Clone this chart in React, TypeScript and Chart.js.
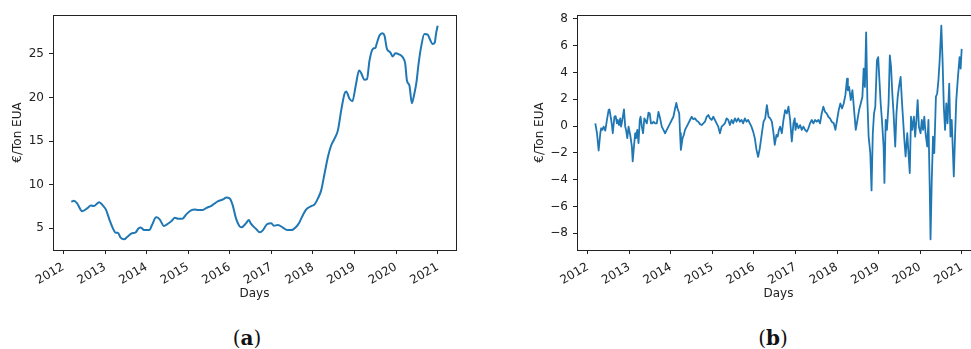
import React, { useEffect, useRef } from 'react';
import { Chart, registerables } from 'chart.js';

Chart.register(...registerables);

// Year ticks shared by both panels
const YEAR_TICKS = [2012, 2013, 2014, 2015, 2016, 2017, 2018, 2019, 2020, 2021];

// (a) EUA price level, €/ton
const PRICE_YEARS = [
  2012.19, 2012.25, 2012.33, 2012.45, 2012.57, 2012.66, 2012.73, 2012.86, 2012.95, 2013.02,
  2013.11, 2013.19, 2013.26, 2013.31, 2013.37, 2013.46, 2013.54, 2013.65, 2013.73, 2013.81,
  2013.86, 2013.94, 2014.07, 2014.13, 2014.23, 2014.31, 2014.42, 2014.5, 2014.6, 2014.68,
  2014.76, 2014.86, 2014.96, 2015.08, 2015.16, 2015.24, 2015.35, 2015.44, 2015.56, 2015.64,
  2015.72, 2015.84, 2015.92, 2016.0, 2016.07, 2016.15, 2016.23, 2016.28, 2016.39, 2016.46,
  2016.5, 2016.64, 2016.72, 2016.8, 2016.9, 2017.0, 2017.06, 2017.16, 2017.27, 2017.38,
  2017.48, 2017.6, 2017.67, 2017.72, 2017.84, 2017.96, 2018.04, 2018.12, 2018.2, 2018.28,
  2018.36, 2018.44, 2018.52, 2018.6, 2018.68, 2018.76, 2018.8, 2018.88, 2018.95, 2019.03,
  2019.11, 2019.15, 2019.24, 2019.3, 2019.36, 2019.44, 2019.5, 2019.53, 2019.6, 2019.67,
  2019.72, 2019.78, 2019.86, 2019.92, 2019.98, 2020.07, 2020.16, 2020.22, 2020.26, 2020.32,
  2020.38, 2020.43, 2020.49, 2020.54, 2020.6, 2020.68, 2020.76, 2020.81, 2020.88, 2020.93,
  2020.96, 2021.0,
];
const PRICE_VALUES = [
  8.04, 8.15, 7.86, 6.97, 7.28, 7.63, 7.55, 8.0, 7.6, 7.17,
  5.95, 5.0, 4.5, 4.5, 3.97, 3.74, 4.04, 4.43, 4.5, 5.0,
  5.1, 4.8, 4.8, 5.38, 6.26, 6.06, 5.26, 5.49, 5.83, 6.21,
  6.1, 6.1, 6.63, 7.09, 7.17, 7.1, 7.1, 7.35, 7.58, 7.86,
  8.12, 8.31, 8.54, 8.43, 7.66, 6.14, 5.26, 5.11, 5.57, 5.95,
  5.6, 4.89, 4.54, 4.8, 5.49, 5.57, 5.3, 5.38, 5.11, 4.8,
  4.8, 5.18, 5.64, 6.14, 7.17, 7.55, 7.74, 8.43, 9.38, 11.29,
  13.18, 14.52, 15.29, 16.23, 18.52, 20.43, 20.69, 19.86, 19.58, 21.38,
  23.09, 22.9, 22.03, 22.1, 24.23, 25.57, 25.68, 26.1, 27.1, 27.36,
  27.1, 25.57, 25.18, 24.7, 25.07, 24.95, 24.6, 23.85, 21.95, 21.38,
  19.35, 20.23, 21.75, 23.85, 25.75, 27.29, 27.2, 26.7, 26.14, 26.3,
  27.3, 28.23,
];
const PRICE_TICKS = [5, 10, 15, 20, 25];

// (b) Detrended price deviation, €/ton
const DIFF_YEARS = [
  2012.18, 2012.22, 2012.26, 2012.3, 2012.32, 2012.35, 2012.38, 2012.42, 2012.46, 2012.5,
  2012.52, 2012.55, 2012.58, 2012.6, 2012.64, 2012.67, 2012.7, 2012.72, 2012.75, 2012.78,
  2012.8, 2012.83, 2012.87, 2012.9, 2012.92, 2012.95, 2012.98, 2013.02, 2013.06, 2013.08,
  2013.11, 2013.14, 2013.16, 2013.19, 2013.22, 2013.25, 2013.27, 2013.3, 2013.33, 2013.36,
  2013.38, 2013.42, 2013.46, 2013.49, 2013.52, 2013.55, 2013.58, 2013.62, 2013.66, 2013.7,
  2013.74, 2013.78, 2013.82, 2013.86, 2013.9, 2013.94, 2013.98, 2014.02, 2014.06, 2014.1,
  2014.13, 2014.16, 2014.2, 2014.22, 2014.24, 2014.28, 2014.31, 2014.34, 2014.38, 2014.42,
  2014.46, 2014.5, 2014.54, 2014.58, 2014.62, 2014.66, 2014.7, 2014.74, 2014.78, 2014.82,
  2014.86, 2014.9, 2014.94, 2014.98, 2015.02, 2015.06, 2015.1, 2015.14, 2015.18, 2015.22,
  2015.26, 2015.3, 2015.34, 2015.38, 2015.42, 2015.46, 2015.5, 2015.54, 2015.58, 2015.62,
  2015.66, 2015.7, 2015.74, 2015.78, 2015.82, 2015.86, 2015.9, 2015.94, 2015.98, 2016.02,
  2016.06, 2016.1, 2016.14, 2016.19, 2016.23, 2016.27, 2016.31, 2016.35, 2016.39, 2016.43,
  2016.47, 2016.5, 2016.54, 2016.57, 2016.6, 2016.63, 2016.67, 2016.71, 2016.75, 2016.79,
  2016.83, 2016.87, 2016.91, 2016.95, 2016.98, 2017.0, 2017.03, 2017.07, 2017.11, 2017.15,
  2017.19, 2017.23, 2017.27, 2017.31, 2017.35, 2017.39, 2017.43, 2017.47, 2017.51, 2017.55,
  2017.59, 2017.63, 2017.67, 2017.71, 2017.75, 2017.79, 2017.83, 2017.87, 2017.92, 2017.96,
  2018.0, 2018.04, 2018.08, 2018.12, 2018.16, 2018.2, 2018.24, 2018.26, 2018.29, 2018.33,
  2018.37, 2018.41, 2018.45, 2018.49, 2018.53, 2018.57, 2018.61, 2018.64, 2018.67, 2018.7,
  2018.73, 2018.76, 2018.8, 2018.83, 2018.86, 2018.89, 2018.92, 2018.96, 2018.99, 2019.02,
  2019.05, 2019.08, 2019.12, 2019.14, 2019.17, 2019.2, 2019.24, 2019.27, 2019.3, 2019.33,
  2019.36, 2019.4, 2019.43, 2019.46, 2019.49, 2019.53, 2019.56, 2019.59, 2019.62, 2019.65,
  2019.69, 2019.72, 2019.75, 2019.78, 2019.81, 2019.85, 2019.88, 2019.91, 2019.94, 2019.97,
  2020.01, 2020.04, 2020.07, 2020.1, 2020.13, 2020.17, 2020.2, 2020.23, 2020.25, 2020.28,
  2020.31, 2020.34, 2020.38, 2020.41, 2020.44, 2020.47, 2020.51, 2020.54, 2020.57, 2020.6,
  2020.63, 2020.66, 2020.7, 2020.73, 2020.76, 2020.79, 2020.81, 2020.84, 2020.87, 2020.91,
  2020.95, 2020.975, 2021.0,
];
const DIFF_VALUES = [
  0.21, -0.53, -1.82, -0.53, -0.16, -0.28, -0.04, -0.33, 0.46, 1.2,
  1.25, 0.7, 0.08, -0.53, 0.7, 0.75, 0.21, 0.46, 0.08, 0.58,
  -0.04, 0.46, 1.25, -0.04, -0.28, -0.9, -0.04, -0.66, -1.52, -2.63,
  -1.52, -0.53, -0.9, -0.28, -1.27, 0.46, 0.7, -0.04, -0.53, 0.58,
  0.46, 0.21, 1.0, 0.95, 0.21, 0.21, 0.33, 0.21, 0.21, 1.07,
  0.58, -0.04, -0.28, -0.53, -0.28, -0.04, 0.21, 0.46, 0.7, 1.32,
  1.74, 1.32, 0.95, -0.53, -1.77, -0.9, -0.66, -0.28, -0.04, 0.21,
  0.46, 0.7, 0.52, 0.58, 0.4, 0.33, 0.15, 0.08, 0.2, 0.33,
  0.7, 0.83, 0.58, 0.46, 0.7, 0.46, 0.21, -0.04, -0.53, -0.04,
  0.08, 0.21, 0.58, 0.46, 0.08, 0.46, 0.21, 0.58, 0.33, 0.58,
  0.33, 0.46, 0.21, 0.58, 0.33, 0.46, 0.21, -0.04, -0.41, -0.9,
  -1.77, -2.3, -1.65, -0.53, 0.33, 0.58, 1.57, 0.7, 0.58, 0.33,
  -0.53, -1.4, -0.66, -0.78, -0.28, -0.04, -0.53, 0.46, 1.2, 0.95,
  1.45, 0.46, -1.15, 0.21, 0.58, -0.28, 0.21, -0.16, 0.08, -0.28,
  -0.04, -0.28, -0.41, -0.16, 0.21, 0.46, 0.21, 0.46, 0.33, 0.46,
  0.21, 0.95, 1.45, 1.07, 0.95, 0.7, 0.58, 0.33, 0.21, -0.28,
  0.46, 1.2, 1.69, 1.32, 1.69, 2.31, 3.54, 2.68, 2.93, 1.94,
  2.68, 1.2, -0.28, 0.46, 1.2, 1.69, 2.19, 4.29, 2.93, 7.0,
  1.94, -0.78, -2.02, -4.8, -0.53, 0.95, 1.45, 4.91, 5.15, 3.42,
  1.69, 0.46, -1.52, -4.24, 0.46, -0.28, 1.69, 5.28, 4.42, 2.44,
  0.95, -1.52, 0.95, 2.19, 2.93, 3.67, 1.94, 0.46, -1.03, -2.27,
  -0.53, -2.02, -3.5, 0.7, -0.28, 0.7, -0.78, 0.46, 1.94, -0.04,
  -0.53, 0.46, -0.28, 0.7, -0.53, -1.52, 0.46, -4.49, -8.45, -4.0,
  -0.78, -2.02, 2.19, 2.44, 3.42, 4.91, 7.5, 4.91, 1.45, -0.28,
  1.69, 0.21, 3.17, -0.78, 0.46, -2.02, -3.75, -0.78, 1.94, 3.67,
  5.15, 4.29, 5.77,
];
const DIFF_TICKS = [-8, -6, -4, -2, 0, 2, 4, 6, 8];

const X_TITLE = 'Days';
const Y_TITLE = '€/Ton EUA';

const LINE_COLOR = '#1f77b4';
const INK = '#222222';
const SANS = "'DejaVu Sans', sans-serif";

// Data limits widened by 5 % on each side
function paddedRange(values: number[]): [number, number] {
  const lo = Math.min(...values);
  const hi = Math.max(...values);
  const m = (hi - lo) * 0.05;
  return [lo - m, hi + m];
}

function formatTick(v: number): string {
  return v < 0 ? '\u2212' + Math.abs(v) : String(v);
}

// Full rectangular frame around the plotting area
const framePlugin = {
  id: 'frame',
  afterDraw(chart: any) {
    const { ctx, chartArea: a } = chart;
    ctx.save();
    ctx.strokeStyle = INK;
    ctx.lineWidth = 1;
    const l = Math.round(a.left) + 0.5;
    const t = Math.round(a.top) + 0.5;
    const r = Math.round(a.right) + 0.5;
    const b = Math.round(a.bottom) + 0.5;
    ctx.strokeRect(l, t, r - l, b - t);
    ctx.restore();
  },
};

interface PanelSpec {
  years: number[];
  values: number[];
  yTicks: number[];
  yAxisWidth: number;
  yTitlePad: number;
  rightPad: number;
  smooth: boolean;
  lineWidth: number;
}

function buildConfig(p: PanelSpec): any {
  const [xMin, xMax] = paddedRange(p.years);
  const [yMin, yMax] = paddedRange(p.values);
  const points = p.years.map((x, i) => ({ x, y: p.values[i] }));
  const textFont = { family: SANS, size: 12 };
  return {
    type: 'line',
    data: {
      datasets: [
        {
          data: points,
          borderColor: LINE_COLOR,
          borderWidth: p.lineWidth,
          borderJoinStyle: 'round',
          pointRadius: 0,
          fill: false,
          tension: 0,
          cubicInterpolationMode: p.smooth ? 'monotone' : 'default',
        },
      ],
    },
    options: {
      responsive: false,
      animation: false,
      devicePixelRatio: 1,
      layout: { padding: { top: 15, left: 0, right: p.rightPad, bottom: 0 } },
      plugins: { legend: { display: false }, tooltip: { enabled: false } },
      scales: {
        x: {
          type: 'linear',
          min: xMin,
          max: xMax,
          afterBuildTicks: (scale: any) => {
            scale.ticks = YEAR_TICKS.map((value) => ({ value }));
          },
          afterFit: (scale: any) => {
            scale.height = 60;
            scale.paddingLeft = 0;
            scale.paddingRight = 0;
          },
          grid: { drawOnChartArea: false, drawTicks: true, tickLength: 4, color: INK },
          border: { display: false },
          ticks: {
            autoSkip: false,
            minRotation: 30,
            maxRotation: 30,
            padding: 6,
            color: INK,
            font: textFont,
            callback: (v: number) => String(v),
          },
          title: {
            display: true,
            text: X_TITLE,
            color: INK,
            font: textFont,
            padding: { top: 0, bottom: 8.7 },
          },
        },
        y: {
          type: 'linear',
          min: yMin,
          max: yMax,
          afterBuildTicks: (scale: any) => {
            scale.ticks = p.yTicks.map((value) => ({ value }));
          },
          afterFit: (scale: any) => {
            scale.width = p.yAxisWidth;
            scale.paddingTop = 0;
            scale.paddingBottom = 0;
          },
          grid: { drawOnChartArea: false, drawTicks: true, tickLength: 4, color: INK },
          border: { display: false },
          ticks: {
            padding: 5,
            color: INK,
            font: textFont,
            callback: (v: number) => formatTick(v),
          },
          title: {
            display: true,
            text: Y_TITLE,
            color: INK,
            font: textFont,
            padding: { top: p.yTitlePad, bottom: 0 },
          },
        },
      },
    },
    plugins: [framePlugin],
  };
}

function Panel({ spec, width, height }: { spec: PanelSpec; width: number; height: number }) {
  const ref = useRef<HTMLCanvasElement | null>(null);
  useEffect(() => {
    if (!ref.current) return;
    const chart = new Chart(ref.current, buildConfig(spec));
    return () => chart.destroy();
  }, [spec]);
  return <canvas ref={ref} width={width} height={height} style={{ display: 'block', width, height }} />;
}

const PANEL_A: PanelSpec = {
  years: PRICE_YEARS,
  values: PRICE_VALUES,
  yTicks: PRICE_TICKS,
  yAxisWidth: 53,
  yTitlePad: 11,
  rightPad: 24,
  smooth: true,
  lineWidth: 2,
};

const PANEL_B: PanelSpec = {
  years: DIFF_YEARS,
  values: DIFF_VALUES,
  yTicks: DIFF_TICKS,
  yAxisWidth: 87,
  yTitlePad: 43,
  rightPad: 10,
  smooth: false,
  lineWidth: 1.8,
};

const captionStyle: React.CSSProperties = {
  position: 'absolute',
  top: 328,
  width: 100,
  textAlign: 'center',
  fontFamily: "'DejaVu Serif', serif",
  fontSize: 20,
  lineHeight: '20px',
  color: '#111',
};

export default function App() {
  return (
    <div
      style={{
        position: 'fixed',
        left: 0,
        top: 0,
        width: 971,
        height: 349,
        overflow: 'hidden',
        background: '#ffffff',
      }}
    >
      <div style={{ position: 'absolute', left: 0, top: 0, width: 480, height: 310 }}>
        <Panel spec={PANEL_A} width={480} height={310} />
      </div>
      <div style={{ position: 'absolute', left: 490, top: 0, width: 481, height: 310, overflow: 'hidden' }}>
        <Panel spec={PANEL_B} width={500} height={310} />
      </div>
      <div style={{ ...captionStyle, left: 197 }}>
        (<b>a</b>)
      </div>
      <div style={{ ...captionStyle, left: 723 }}>
        (<b>b</b>)
      </div>
    </div>
  );
}
